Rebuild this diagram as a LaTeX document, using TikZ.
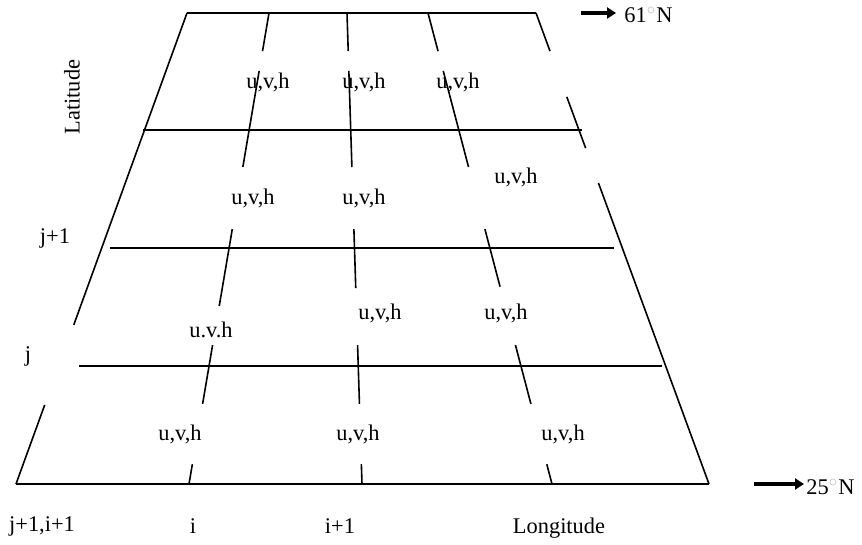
\documentclass[tikz,border=0pt]{standalone}
\usepackage{fontspec}
\setmainfont{Liberation Serif}
\usetikzlibrary{arrows.meta, calc}

\begin{document}
\begin{tikzpicture}[x=0.5pt, y=-0.5pt,
        griglia/.style={line width=0.8pt},
        etic/.style={font=\fontsize{11.2}{13}\selectfont, inner sep=0pt},
        freccia/.style={line width=1.6pt, -{Triangle[length=4.5pt, width=5.5pt]}}]
    \useasboundingbox (0,0) rectangle (862,545);

    % Angoli del dominio
    \coordinate (NW) at (187,13);
    \coordinate (NE) at (536,13);
    \coordinate (SW) at (16,484);
    \coordinate (SE) at (709,484);

    % Paralleli
    \draw[griglia] (NW) -- (NE);
    \draw[griglia] (143,130) -- (582,130);
    \draw[griglia] (110,248) -- (614,248);
    \draw[griglia] (79,366) -- (662,366);
    \draw[griglia] (SW) -- (SE);

    % Bordi laterali (interrotti)
    \foreach \a/\b in {0/0.662, 0.832/1}
        \draw[griglia] ($(NW)!\a!(SW)$) -- ($(NW)!\b!(SW)$);
    \foreach \a/\b in {0/0.081, 0.178/0.287, 0.361/1}
        \draw[griglia] ($(NE)!\a!(SE)$) -- ($(NE)!\b!(SE)$);

    % Meridiani
    \coordinate (A0) at (269,13);  \coordinate (A1) at (189,484);
    \coordinate (B0) at (347,13);  \coordinate (B1) at (362,484);
    \coordinate (C0) at (428,13);  \coordinate (C1) at (552,484);
    \foreach \m/\c in {A/0.622, B/0.584, C/0.581}
        \foreach \a/\b in {0/0.081, 0.123/0.327, 0.459/\c, 0.705/0.83, 0.958/1}
            \draw[griglia] ($(\m0)!\a!(\m1)$) -- ($(\m0)!\b!(\m1)$);

    % Variabili nei nodi
    \node[etic] (uvh11) at (268,82) {u,v,h};
    \node[etic] (uvh12) at (364,82) {u,v,h};
    \node[etic] (uvh13) at (458,82) {u,v,h};
    \node[etic] (uvh21) at (253,198) {u,v,h};
    \node[etic] (uvh22) at (364,198) {u,v,h};
    \node[etic] (uvh23) at (516,177) {u,v,h};
    \node[etic] (uvh31) at (211,330) {u.v.h};
    \node[etic] (uvh32) at (380,313) {u,v,h};
    \node[etic] (uvh33) at (506,313) {u,v,h};
    \node[etic] (uvh41) at (180,434) {u,v,h};
    \node[etic] (uvh42) at (358,434) {u,v,h};
    \node[etic] (uvh43) at (563,434) {u,v,h};

    % Indici
    \node[etic, rotate=90] (lat) at (72,97) {Latitude};
    \node[etic] (jp1) at (55,238) {j+1};
    \node[etic] (jj) at (28,356) {j};
    \node[etic] (jpip) at (42,526) {j+1,i+1};
    \node[etic] (ii) at (193,526) {i};
    \node[etic] (ip1) at (340,526) {i+1};
    \node[etic] (lon) at (559,528) {Longitude};

    % Latitudini estreme
    \node[etic, anchor=west] (n61) at (624,15) {61{\color{gray!50}$^{\circ}$}N};
    \node[etic, anchor=west] (n25) at (806,487) {25{\color{gray!50}$^{\circ}$}N};
    \coordinate (s61) at (581,13);
    \coordinate (s25) at (754,484);
    \draw[freccia, shorten >=4pt] (s61) -- (n61.west |- s61);
    \draw[freccia, shorten >=1pt] (s25) -- (n25.west |- s25);
\end{tikzpicture}
\end{document}
